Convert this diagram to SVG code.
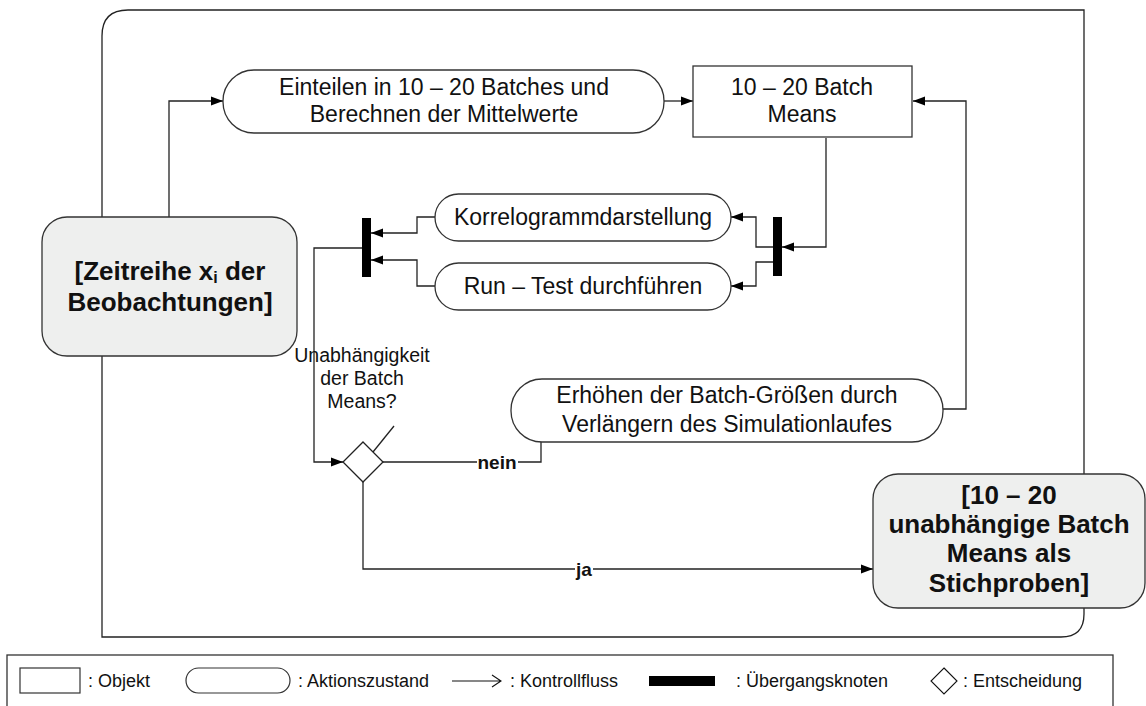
<svg xmlns="http://www.w3.org/2000/svg" width="1146" height="706" viewBox="0 0 1146 706">
<defs>
<style>
.t{font-family:"Liberation Sans",Arial,sans-serif;font-size:23px;fill:#111;text-anchor:middle}
.d{font-family:"Liberation Sans",Arial,sans-serif;font-size:19.5px;fill:#111;text-anchor:middle}
.b{font-family:"Liberation Sans",Arial,sans-serif;font-size:26px;font-weight:bold;fill:#111;text-anchor:middle}
.lb{font-family:"Liberation Sans",Arial,sans-serif;font-size:19px;font-weight:bold;fill:#111;text-anchor:middle}
.lg{font-family:"Liberation Sans",Arial,sans-serif;font-size:18px;fill:#111}
.act{fill:#fff;stroke:#333;stroke-width:1.3}
.obj{fill:#fff;stroke:#333;stroke-width:1.3}
.sobj{fill:#eeefee;stroke:#333;stroke-width:1.3}
.c{fill:none;stroke:#222;stroke-width:1.3}
.bar{fill:#000}
</style>
<marker id="ar" markerWidth="13" markerHeight="10" refX="12" refY="5" orient="auto" markerUnits="userSpaceOnUse">
<path d="M0,0.5 L12,5 L0,9.5 z" fill="#000"/>
</marker>
</defs>
<rect width="1146" height="706" fill="#fff"/>
<g id="frame">
<path class="c" d="M102,36 Q102,10 128,10 H1084 V614 Q1084,637 1061,637 H102 Z" stroke="#333"/>
</g>
<g id="connectors">
<path class="c" d="M169,217 V101 H223" marker-end="url(#ar)"/>
<path class="c" d="M664,101 H693" marker-end="url(#ar)"/>
<path class="c" d="M826,138 V247 H782" marker-end="url(#ar)"/>
<path class="c" d="M773,247 H756 V217 H731" marker-end="url(#ar)"/>
<path class="c" d="M773,262 H756 V286 H731" marker-end="url(#ar)"/>
<path class="c" d="M435,217 H417 V233 H371" marker-end="url(#ar)"/>
<path class="c" d="M435,286 H417 V260 H371" marker-end="url(#ar)"/>
<path class="c" d="M362,248 H314 V462 H343" marker-end="url(#ar)"/>
<path class="c" d="M383,462 H541 V441"/>
<path class="c" d="M942,409 H966 V101 H913" marker-end="url(#ar)"/>
<path class="c" d="M363,482 V569 H873" marker-end="url(#ar)"/>
<path class="c" d="M373,452 L394,426"/>
<rect x="477" y="452" width="41" height="20" fill="#fff"/>
<text class="lb" x="497" y="469">nein</text>
<rect x="575" y="559" width="18" height="22" fill="#fff"/>
<text class="lb" x="584" y="576">ja</text>
</g>
<g id="n_zeitreihe">
<rect class="sobj" x="42" y="217" width="255" height="139" rx="25"/>
<text class="b" x="170" y="280">[Zeitreihe x<tspan font-size="16" dy="3">i</tspan><tspan dy="-3"> der</tspan></text>
<text class="b" x="170" y="311">Beobachtungen]</text>
</g>
<g id="n_einteilen">
<rect class="act" x="223" y="70" width="441" height="63" rx="31" ry="31"/>
<text class="t" x="444" y="95">Einteilen in 10 – 20 Batches und</text>
<text class="t" x="444" y="122">Berechnen der Mittelwerte</text>
</g>
<g id="n_batchmeans">
<rect class="obj" x="693" y="66" width="219" height="71"/>
<text class="t" x="802" y="95">10 – 20 Batch</text>
<text class="t" x="802" y="122">Means</text>
</g>
<g id="n_fork">
<rect class="bar" x="773" y="217" width="9" height="59"/>
</g>
<g id="n_korrelogramm">
<rect class="act" x="435" y="194" width="296" height="47" rx="23.5"/>
<text class="t" x="583" y="225">Korrelogrammdarstellung</text>
</g>
<g id="n_runtest">
<rect class="act" x="435" y="263" width="296" height="47" rx="23.5"/>
<text class="t" x="583" y="294">Run – Test durchführen</text>
</g>
<g id="n_join">
<rect class="bar" x="362" y="218" width="9" height="59"/>
</g>
<g id="n_decision">
<polygon points="363,442 383,462 363,482 343,462" fill="#fff" stroke="#222" stroke-width="1.3"/>
<text class="d" x="362" y="362">Unabhängigkeit</text>
<text class="d" x="362" y="385">der Batch</text>
<text class="d" x="362" y="408">Means?</text>
</g>
<g id="n_erhoehen">
<rect class="act" x="511" y="379" width="432" height="63" rx="31" ry="31"/>
<text class="t" x="727" y="403">Erhöhen der Batch-Größen durch</text>
<text class="t" x="727" y="432">Verlängern des Simulationlaufes</text>
</g>
<g id="n_stichproben">
<rect class="sobj" x="873" y="474" width="272" height="134" rx="25"/>
<text class="b" x="1009" y="504">[10 – 20</text>
<text class="b" x="1009" y="533">unabhängige Batch</text>
<text class="b" x="1009" y="562">Means als</text>
<text class="b" x="1009" y="592">Stichproben]</text>
</g>
<g id="legend">
<rect x="7" y="655" width="1106" height="60" fill="none" stroke="#333" stroke-width="1.3"/>
<rect x="20" y="668" width="60" height="25" fill="#fff" stroke="#333" stroke-width="1.2"/>
<text class="lg" x="88" y="687">: Objekt</text>
<rect x="186" y="668" width="104" height="25" rx="12.5" fill="#fff" stroke="#333" stroke-width="1.2"/>
<text class="lg" x="298" y="687">: Aktionszustand</text>
<path d="M452,681 H501 M492,675 L501,681 L492,687" fill="none" stroke="#111" stroke-width="1.1"/>
<text class="lg" x="510" y="687">: Kontrollfluss</text>
<rect x="649" y="676" width="66" height="10" fill="#000"/>
<text class="lg" x="736" y="687">: Übergangsknoten</text>
<polygon points="944,668 957,681 944,694 931,681" fill="#fff" stroke="#111" stroke-width="1.1"/>
<text class="lg" x="963" y="687">: Entscheidung</text>
</g>
</svg>
